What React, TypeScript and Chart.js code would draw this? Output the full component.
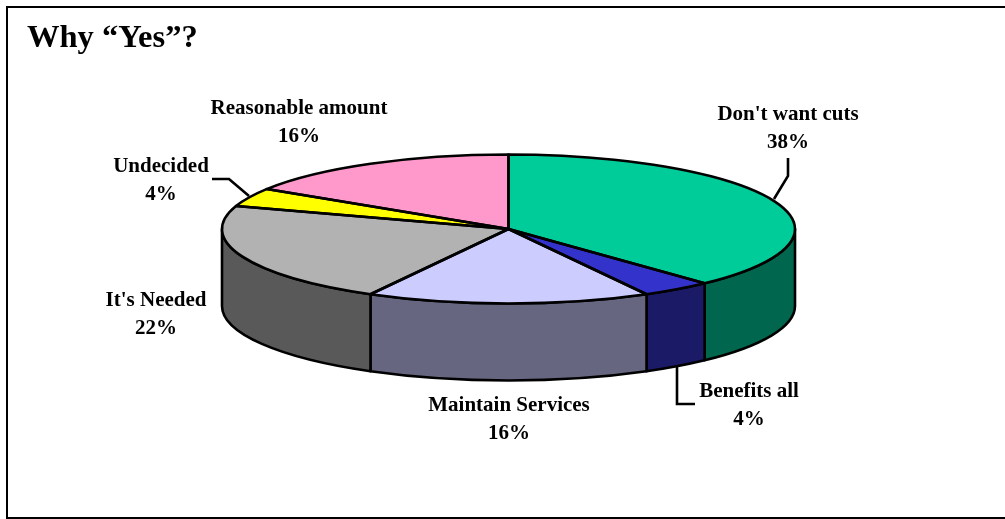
import React, { useEffect, useRef } from "react";
import { Chart, registerables } from "chart.js";

Chart.register(...registerables);

const categories = ["Don't want cuts", "Benefits all", "Maintain Services", "It's Needed", "Undecided", "Reasonable amount"];
const shares = [38, 4, 16, 22, 4, 16];
const topColors = ["#00CC99", "#3333CC", "#CCCCFF", "#B2B2B2", "#FFFF00", "#FF99CC"];
const sideColors = ["#00664D", "#1A1A66", "#666680", "#595959", "#808000", "#804D66"];
const titleText = "Why “Yes”?";

// Layout of the annotations (centre x, first baseline y)
const labelAnchors = [[788, 120], [749, 397], [509, 411], [156, 306], [161, 172], [299, 114]];
const leaders = [
  [[788, 158], [788, 176], [774, 199]],
  [[677, 367], [677, 404], [695, 404]],
  [[212, 179], [229, 179], [249, 196]],
];

const SQUASH = 0.26;
const DEPTH = 77;
const FONT = "Liberation Serif";
const EDGE = 2.6;

const pie3d = {
  id: "pie3d",
  beforeDraw(chart: any) {
    const { ctx, width, height } = chart;
    ctx.save();
    ctx.fillStyle = "#FFFFFF";
    ctx.fillRect(0, 0, width, height);
    ctx.strokeStyle = "#000000";
    ctx.lineWidth = 2;
    ctx.beginPath();
    ctx.moveTo(width, 7);
    ctx.lineTo(7, 7);
    ctx.lineTo(7, 518);
    ctx.lineTo(width, 518);
    ctx.stroke();
    ctx.restore();
  },
  beforeDatasetDraw(chart: any) {
    const { ctx } = chart;
    const arcs = chart.getDatasetMeta(0).data;
    ctx.save();
    ctx.strokeStyle = "#000000";
    ctx.lineWidth = EDGE;
    ctx.lineJoin = "round";
    arcs.forEach((arc: any, i: number) => {
      const a0 = Math.max(arc.startAngle, 0);
      const a1 = Math.min(arc.endAngle, Math.PI);
      if (a1 <= a0) return;
      const rx = arc.outerRadius;
      const ry = rx * SQUASH;
      ctx.beginPath();
      ctx.ellipse(arc.x, arc.y, rx, ry, 0, a0, a1);
      ctx.ellipse(arc.x, arc.y + DEPTH, rx, ry, 0, a1, a0, true);
      ctx.closePath();
      ctx.fillStyle = sideColors[i];
      ctx.fill();
      ctx.stroke();
    });
    ctx.restore();
    const first = arcs[0];
    ctx.save();
    ctx.translate(first.x, first.y);
    ctx.scale(1, SQUASH);
    ctx.translate(-first.x, -first.y);
  },
  afterDatasetDraw(chart: any) {
    const { ctx } = chart;
    const arcs = chart.getDatasetMeta(0).data;
    ctx.restore();
    ctx.save();
    ctx.strokeStyle = "#000000";
    ctx.lineWidth = EDGE;
    ctx.lineJoin = "round";
    arcs.forEach((arc: any) => {
      const rx = arc.outerRadius;
      const ry = rx * SQUASH;
      ctx.beginPath();
      ctx.moveTo(arc.x, arc.y);
      ctx.ellipse(arc.x, arc.y, rx, ry, 0, arc.startAngle, arc.endAngle);
      ctx.closePath();
      ctx.stroke();
    });
    ctx.restore();
  },
  afterDraw(chart: any) {
    const { ctx } = chart;
    ctx.save();
    ctx.strokeStyle = "#000000";
    ctx.lineWidth = EDGE;
    leaders.forEach((pts) => {
      ctx.beginPath();
      pts.forEach(([x, y], k) => (k ? ctx.lineTo(x, y) : ctx.moveTo(x, y)));
      ctx.stroke();
    });
    ctx.fillStyle = "#000000";
    ctx.textBaseline = "alphabetic";
    ctx.textAlign = "left";
    ctx.font = `bold 32.5px "${FONT}"`;
    ctx.fillText(titleText, 27, 47);
    ctx.textAlign = "center";
    ctx.font = `bold 21px "${FONT}"`;
    categories.forEach((name, i) => {
      const [x, y] = labelAnchors[i];
      ctx.fillText(name, x, y);
      ctx.fillText(`${shares[i]}%`, x, y + 28);
    });
    ctx.restore();
  },
};

export default function App() {
  const ref = useRef<HTMLCanvasElement>(null);
  useEffect(() => {
    const chart = new Chart(ref.current as HTMLCanvasElement, {
      type: "pie",
      data: {
        labels: categories,
        datasets: [{ data: shares, backgroundColor: topColors, borderWidth: 0 }],
      },
      options: {
        responsive: false,
        animation: false,
        radius: 286.5,
        layout: { padding: { left: 12, right: 0, top: 0, bottom: 61 } },
        plugins: { legend: { display: false }, tooltip: { enabled: false }, title: { display: false } },
      },
      plugins: [pie3d],
    } as any);
    return () => chart.destroy();
  }, []);
  return (
    <div style={{ position: "fixed", left: 0, top: 0, width: 1005, height: 519 }}>
      <canvas ref={ref} width={1005} height={519} style={{ display: "block" }} />
    </div>
  );
}
